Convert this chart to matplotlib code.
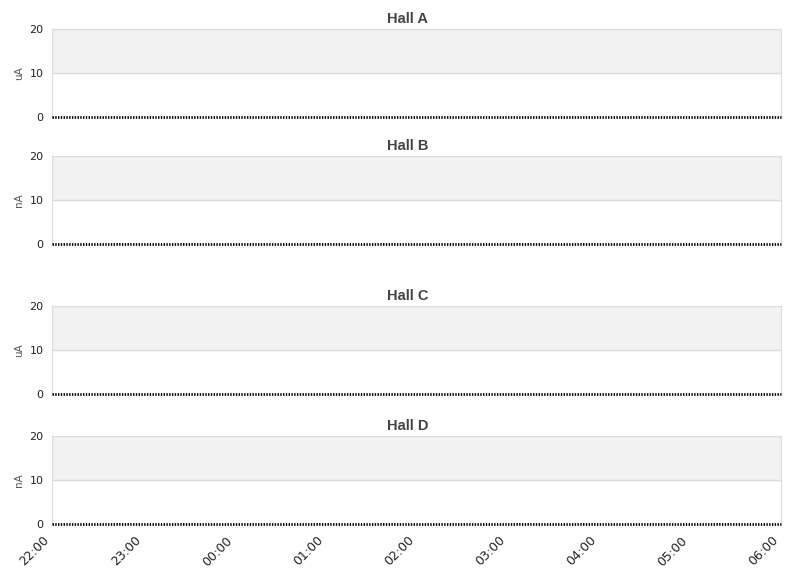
import numpy as np
import matplotlib
matplotlib.use("Agg")
import matplotlib.pyplot as plt
import matplotlib.dates as mdates
import matplotlib.transforms as mtransforms
from datetime import datetime, timedelta

halls = ["Hall A", "Hall B", "Hall C", "Hall D"]
units = ["uA", "nA", "uA", "nA"]
start = datetime(2024, 1, 1, 22, 0)
times = [start + timedelta(minutes=10 * i) for i in range(49)]
currents = {
    "Hall A": [0] * 49,
    "Hall B": [0] * 49,
    "Hall C": [0] * 49,
    "Hall D": [0] * 49,
}
y_ticks = [0, 10, 20]

fig = plt.figure(figsize=(8.11, 5.78), dpi=100)
W, H = 811, 578
tops = [29, 156, 306, 436]
left, right, h = 52, 781, 88

for i, hall in enumerate(halls):
    ax = fig.add_axes([left / W, 1 - (tops[i] + h) / H, (right - left) / W, h / H])
    ax.axhspan(10, 20, color="#f2f2f2", zorder=0)
    for yv in [10, 20]:
        ax.axhline(yv, color="#dddddd", lw=1, zorder=1)
    ax.plot(times, currents[hall], color="black", lw=2, ls=(0, (0.5, 0.5)), zorder=3, clip_on=False)
    ax.set_ylim(0, 20)
    ax.set_xlim(start, start + timedelta(hours=8))
    ax.set_yticks(y_ticks)
    ax.tick_params(axis="y", length=0, labelsize=8, colors="#222222", pad=6)
    ax.tick_params(axis="x", length=0)
    for s in ["left", "right", "top"]:
        ax.spines[s].set_color("#dddddd")
    ax.spines["bottom"].set_visible(False)
    ax.set_ylabel(units[i], fontsize=7.5, color="#555555", labelpad=4)
    fig.text(408 / W, 1 - (tops[i] - 10) / H, hall, ha="center", va="center",
             fontsize=10.5, fontweight="bold", color="#444444", family="Liberation Sans")
    ax.xaxis.set_major_locator(mdates.HourLocator())
    ax.xaxis.set_major_formatter(mdates.DateFormatter("%H:%M"))
    if i < 3:
        ax.set_xticklabels([])
    else:
        off = mtransforms.ScaledTranslation(-9 / 100, -5 / 100, fig.dpi_scale_trans)
        for lab in ax.get_xticklabels():
            lab.set_rotation(45)
            lab.set_ha("right")
            lab.set_rotation_mode("anchor")
            lab.set_fontsize(9)
            lab.set_color("#222222")
            lab.set_transform(lab.get_transform() + off)

fig.savefig("out.png", dpi=100)
